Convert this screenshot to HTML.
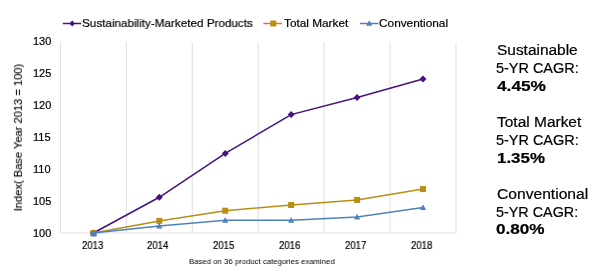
<!DOCTYPE html>
<html><head><meta charset="utf-8"><style>
html,body{margin:0;padding:0;background:#fff;}
body{width:600px;height:279px;position:relative;overflow:hidden;font-family:"Liberation Sans",sans-serif;color:#000;}
.t{position:absolute;white-space:nowrap;line-height:1;transform-origin:0 0;will-change:transform;-webkit-text-stroke:0.2px #000;}
</style></head><body>
<svg width="600" height="279" style="position:absolute;left:0;top:0">
<line x1="60.4" y1="42.5" x2="60.4" y2="233" stroke="#dedede" stroke-width="1"/>
<line x1="126.33" y1="42.5" x2="126.33" y2="233" stroke="#dedede" stroke-width="1"/>
<line x1="192.26" y1="42.5" x2="192.26" y2="233" stroke="#dedede" stroke-width="1"/>
<line x1="258.19" y1="42.5" x2="258.19" y2="233" stroke="#dedede" stroke-width="1"/>
<line x1="324.12" y1="42.5" x2="324.12" y2="233" stroke="#dedede" stroke-width="1"/>
<line x1="390.05" y1="42.5" x2="390.05" y2="233" stroke="#dedede" stroke-width="1"/>
<line x1="455.98" y1="42.5" x2="455.98" y2="233" stroke="#dedede" stroke-width="1"/>
<line x1="60.4" y1="233" x2="456" y2="233" stroke="#e3e3e3" stroke-width="1"/>
<polyline points="93.37,233.0 159.3,197.3 225.23,153.4 291.16,114.6 357.09,97.4 423.02,78.9" fill="none" stroke="#46127f" stroke-width="1.55"/>
<path d="M93.37,229.5 L96.87,233.0 L93.37,236.5 L89.87,233.0Z" fill="#46127f"/>
<path d="M159.3,193.8 L162.8,197.3 L159.3,200.8 L155.8,197.3Z" fill="#46127f"/>
<path d="M225.23,149.9 L228.73,153.4 L225.23,156.9 L221.73,153.4Z" fill="#46127f"/>
<path d="M291.16,111.1 L294.66,114.6 L291.16,118.1 L287.66,114.6Z" fill="#46127f"/>
<path d="M357.09,93.9 L360.59,97.4 L357.09,100.9 L353.59,97.4Z" fill="#46127f"/>
<path d="M423.02,75.4 L426.52,78.9 L423.02,82.4 L419.52,78.9Z" fill="#46127f"/>
<polyline points="93.37,233.0 159.3,220.9 225.23,210.7 291.16,205.0 357.09,199.9 423.02,189.1" fill="none" stroke="#b88e14" stroke-width="1.55"/>
<rect x="90.37" y="230.0" width="6" height="6" fill="#b88e14"/>
<rect x="156.3" y="217.9" width="6" height="6" fill="#b88e14"/>
<rect x="222.23" y="207.7" width="6" height="6" fill="#b88e14"/>
<rect x="288.16" y="202.0" width="6" height="6" fill="#b88e14"/>
<rect x="354.09" y="196.9" width="6" height="6" fill="#b88e14"/>
<rect x="420.02" y="186.1" width="6" height="6" fill="#b88e14"/>
<polyline points="93.37,233.0 159.3,226.0 225.23,220.3 291.16,220.3 357.09,217.1 423.02,207.5" fill="none" stroke="#4f80bd" stroke-width="1.55"/>
<path d="M93.37,229.7 L96.47,235.4 L90.27000000000001,235.4Z" fill="#4f80bd"/>
<path d="M159.3,222.7 L162.4,228.4 L156.20000000000002,228.4Z" fill="#4f80bd"/>
<path d="M225.23,217.0 L228.32999999999998,222.7 L222.13,222.7Z" fill="#4f80bd"/>
<path d="M291.16,217.0 L294.26000000000005,222.7 L288.06,222.7Z" fill="#4f80bd"/>
<path d="M357.09,213.8 L360.19,219.5 L353.98999999999995,219.5Z" fill="#4f80bd"/>
<path d="M423.02,204.2 L426.12,209.9 L419.91999999999996,209.9Z" fill="#4f80bd"/>
<rect x="90.9" y="230.9" width="5.6" height="5.6" fill="#4f80bd"/>
<line x1="62.8" y1="23.5" x2="81.2" y2="23.5" stroke="#46127f" stroke-width="1.5"/>
<path d="M72.2,20.5 L75,23.5 L72.2,26.5 L69.4,23.5Z" fill="#46127f"/>
<line x1="263.3" y1="23.5" x2="282" y2="23.5" stroke="#b88e14" stroke-width="1.5"/>
<rect x="270.3" y="20.5" width="6" height="6" fill="#b88e14"/>
<line x1="360" y1="23.5" x2="378.3" y2="23.5" stroke="#4f80bd" stroke-width="1.5"/>
<path d="M369.2,20.2 L372.3,25.8 L366.1,25.8Z" fill="#4f80bd"/>
</svg>
<div class="t" style="left:82.31px;top:17.60px;font-size:11.8px;font-weight:normal;transform:scaleX(0.9906)">Sustainability-Marketed Products</div>
<div class="t" style="left:284.30px;top:17.60px;font-size:11.8px;font-weight:normal;transform:scaleX(1.0000)">Total Market</div>
<div class="t" style="left:379.30px;top:17.60px;font-size:11.8px;font-weight:normal;transform:scaleX(1.0030)">Conventional</div>
<div class="t" style="left:188.93px;top:257.90px;font-size:8px;font-weight:normal;transform:scaleX(0.9718);-webkit-text-stroke:0">Based on 36 product categories examined</div>
<div class="t" style="left:496.50px;top:43.00px;font-size:14px;font-weight:normal;transform:scaleX(1.1028)">Sustainable</div>
<div class="t" style="left:495.97px;top:61.00px;font-size:14px;font-weight:normal;transform:scaleX(1.0321)">5-YR CAGR:</div>
<div class="t" style="left:496.90px;top:78.70px;font-size:14px;font-weight:bold;transform:scaleX(1.2333)">4.45%</div>
<div class="t" style="left:496.80px;top:115.10px;font-size:14px;font-weight:normal;transform:scaleX(1.1053)">Total Market</div>
<div class="t" style="left:495.97px;top:133.30px;font-size:14px;font-weight:normal;transform:scaleX(1.0321)">5-YR CAGR:</div>
<div class="t" style="left:497.09px;top:150.90px;font-size:14px;font-weight:bold;transform:scaleX(1.2079)">1.35%</div>
<div class="t" style="left:496.78px;top:187.40px;font-size:14px;font-weight:normal;transform:scaleX(1.1163)">Conventional</div>
<div class="t" style="left:496.47px;top:204.70px;font-size:14px;font-weight:normal;transform:scaleX(1.0256)">5-YR CAGR:</div>
<div class="t" style="left:496.48px;top:222.40px;font-size:14px;font-weight:bold;transform:scaleX(1.2237)">0.80%</div>
<div class="t" style="left:33.00px;top:36.10px;font-size:11px">130</div>
<div class="t" style="left:33.00px;top:68.00px;font-size:11px">125</div>
<div class="t" style="left:33.00px;top:99.90px;font-size:11px">120</div>
<div class="t" style="left:33.00px;top:131.80px;font-size:11px">115</div>
<div class="t" style="left:33.00px;top:163.70px;font-size:11px">110</div>
<div class="t" style="left:33.00px;top:195.60px;font-size:11px">105</div>
<div class="t" style="left:33.00px;top:227.50px;font-size:11px">100</div>
<div class="t" style="left:81.50px;top:241.00px;font-size:10px;transform:scaleX(0.9591)">2013</div>
<div class="t" style="left:147.25px;top:241.00px;font-size:10px;transform:scaleX(0.9591)">2014</div>
<div class="t" style="left:212.95px;top:241.00px;font-size:10px;transform:scaleX(0.9591)">2015</div>
<div class="t" style="left:279.15px;top:241.00px;font-size:10px;transform:scaleX(0.9591)">2016</div>
<div class="t" style="left:344.85px;top:241.00px;font-size:10px;transform:scaleX(0.9591)">2017</div>
<div class="t" style="left:410.80px;top:241.00px;font-size:10px;transform:scaleX(0.9591)">2018</div>
<div class="t" style="left:0;top:0;font-size:11px;transform-origin:0 0;transform:translate(12.90px,138.40px) rotate(-90deg) translate(-50%,0) scaleX(1.0111);-webkit-text-stroke:0.12px #000">Index( Base Year 2013 = 100)</div>
</body></html>
